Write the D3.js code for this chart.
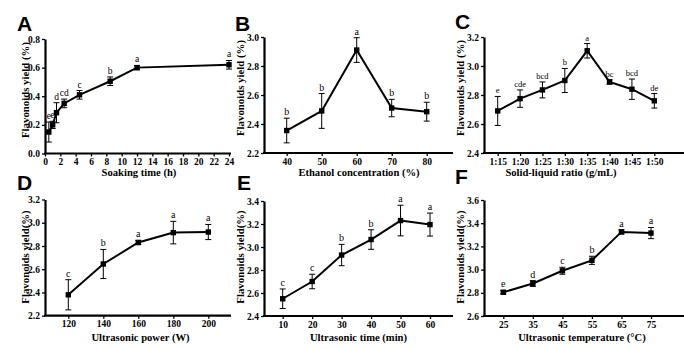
<!DOCTYPE html>
<html><head><meta charset="utf-8">
<script src="https://cdn.jsdelivr.net/npm/d3@7"></script>
<style>body{margin:0;background:#fff}svg{display:block}</style>
</head><body>
<svg id="c" width="684" height="349"></svg>
<script>
// Panel A
const aX = [0.5, 1, 1.5, 2.5, 4.5, 8.5, 12, 24];
const aY = [0.15, 0.20, 0.285, 0.35, 0.41, 0.505, 0.60, 0.62];
const aErr = [0.07, 0.025, 0.07, 0.03, 0.03, 0.03, 0.015, 0.03];
const aSig = ["e", "e", "d", "cd", "c", "b", "a", "a"];
const aXTicks = [0,2,4,6,8,10,12,14,16,18,20,22,24];
const aYTicks = [0.0, 0.2, 0.4, 0.6, 0.8];
// Panel B
const bX = [40, 50, 60, 70, 80];
const bY = [2.355, 2.49, 2.91, 2.51, 2.485];
const bErr = [0.085, 0.12, 0.085, 0.06, 0.065];
const bSig = ["b", "b", "a", "b", "b"];
const bYTicks = [2.2, 2.4, 2.6, 2.8, 3.0];
// Panel C
const cX = ["1:15","1:20","1:25","1:30","1:35","1:40","1:45","1:50"];
const cY = [2.69, 2.775, 2.835, 2.90, 3.105, 2.89, 2.84, 2.76];
const cErr = [0.10, 0.06, 0.055, 0.083, 0.05, 0.015, 0.07, 0.05];
const cSig = ["e", "cde", "bcd", "b", "a", "bc", "bcd", "de"];
const cYTicks = [2.4, 2.6, 2.8, 3.0, 3.2];
// Panel D
const dX = [120, 140, 160, 180, 200];
const dY = [2.38, 2.645, 2.83, 2.915, 2.92];
const dErr = [0.13, 0.125, 0.018, 0.097, 0.065];
const dSig = ["c", "b", "a", "a", "a"];
const dYTicks = [2.2, 2.4, 2.6, 2.8, 3.0, 3.2];
// Panel E
const eX = [10, 20, 30, 40, 50, 60];
const eY = [2.55, 2.70, 2.93, 3.065, 3.23, 3.195];
const eErr = [0.085, 0.063, 0.093, 0.085, 0.133, 0.1];
const eSig = ["c", "c", "b", "b", "a", "a"];
const eYTicks = [2.4, 2.6, 2.8, 3.0, 3.2, 3.4];
// Panel F
const fX = [25, 35, 45, 55, 65, 75];
const fY = [2.805, 2.88, 2.99, 3.08, 3.325, 3.315];
const fErr = [0.015, 0.025, 0.03, 0.035, 0.018, 0.048];
const fSig = ["e", "d", "c", "b", "a", "a"];
const fYTicks = [2.6, 2.8, 3.0, 3.2, 3.4, 3.6];

const svg = d3.select("#c");
const serif = "'Liberation Serif','Times New Roman',serif";

function panel(o) {
  const g = svg.append("g");
  const y = d3.scaleLinear().domain(o.yDom).range([o.y0, o.y1]);
  const x = o.x;
  const ya = d3.axisLeft(y).tickValues(o.yTicks).tickSize(3).tickSizeOuter(0)
    .tickFormat(d3.format(".1f"));
  const gy = g.append("g").attr("transform", `translate(${o.ax},0)`).call(ya);
  const xa = d3.axisBottom(x).tickSize(3).tickSizeOuter(0).tickPadding(2);
  if (o.xTicks) xa.tickValues(o.xTicks);
  xa.tickFormat(o.xFmt || (d => d));
  const gx = g.append("g").attr("transform", `translate(0,${o.y0})`).call(xa);
  gx.select(".domain").remove();
  g.append("line").attr("x1", o.ax - 1).attr("x2", o.axEnd)
    .attr("y1", o.y0).attr("y2", o.y0).attr("stroke", "#000").attr("stroke-width", 2.2);
  gy.select(".domain").attr("stroke-width", 2.2);
  [gx, gy].forEach(a => {
    a.selectAll(".tick line").attr("stroke-width", 1.3);
    a.selectAll("text").attr("font-family", serif).attr("font-weight", "bold")
      .attr("font-size", 9.5).attr("fill", "#000");
  });
  gy.selectAll("text").attr("dx", "0.1em");
  // titles
  g.append("text").attr("x", o.xtX).attr("y", o.xtY).attr("text-anchor", "middle")
    .attr("font-family", serif).attr("font-weight", "bold").attr("font-size", 10.6)
    .text(o.xTitle);
  g.append("text").attr("transform", `translate(${o.ytX},${o.ytY}) rotate(-90)`)
    .attr("text-anchor", "middle").attr("font-family", serif).attr("font-weight", "bold")
    .attr("font-size", 10.8).text(o.yTitle);
  g.append("text").attr("x", o.lx).attr("y", o.ly).attr("font-family", "'Liberation Sans',Arial,sans-serif")
    .attr("font-weight", "bold").attr("font-size", 21).text(o.letter);
  // data
  const pts = o.xs.map((v, i) => ({ x: x(v), y: y(o.ys[i]), hi: y(o.ys[i] + o.err[i]), lo: y(o.ys[i] - o.err[i]), s: o.sig[i] }));
  g.append("path").datum(pts).attr("fill", "none").attr("stroke", "#000").attr("stroke-width", 2)
    .attr("d", d3.line().x(d => d.x).y(d => d.y));
  const eb = g.selectAll(".eb").data(pts).enter().append("g");
  eb.append("line").attr("x1", d => d.x).attr("x2", d => d.x).attr("y1", d => d.hi).attr("y2", d => d.lo)
    .attr("stroke", "#000").attr("stroke-width", 1);
  eb.append("line").attr("x1", d => d.x - 3).attr("x2", d => d.x + 3).attr("y1", d => d.hi).attr("y2", d => d.hi)
    .attr("stroke", "#000").attr("stroke-width", 1);
  eb.append("line").attr("x1", d => d.x - 3).attr("x2", d => d.x + 3).attr("y1", d => d.lo).attr("y2", d => d.lo)
    .attr("stroke", "#000").attr("stroke-width", 1);
  eb.append("rect").attr("x", d => d.x - 2.7).attr("y", d => d.y - 2.7).attr("width", 5.4).attr("height", 5.4).attr("fill", "#000");
  eb.append("text").attr("x", d => d.x).attr("y", d => d.hi - 3).attr("text-anchor", "middle")
    .attr("font-family", serif).attr("font-size", o.sigSize || 10).attr("fill", "#000").text(d => d.s);
}

panel({ letter: "A", lx: 17, ly: 31, xs: aX, ys: aY, err: aErr, sig: aSig, yDom: [0, 0.8], yTicks: aYTicks,
  x: d3.scaleLinear().domain([0, 24]).range([45, 229]), xTicks: aXTicks, ax: 45, axEnd: 231, y0: 153.5, y1: 39,
  xTitle: "Soaking time (h)", xtX: 139, xtY: 176, yTitle: "Flavonoids yield (%)", ytX: 29, ytY: 90, sigSize: 9.5 });
panel({ letter: "B", lx: 235, ly: 31, xs: bX, ys: bY, err: bErr, sig: bSig, yDom: [2.2, 3.0], yTicks: bYTicks,
  x: d3.scaleLinear().domain([40, 80]).range([286.7, 426.7]), xTicks: bX, ax: 264, axEnd: 453, y0: 153, y1: 37,
  xTitle: "Ethanol concentration (%)", xtX: 359, xtY: 176, yTitle: "Flavonoids yield (%)", ytX: 244, ytY: 88 });
panel({ letter: "C", lx: 455, ly: 29, xs: cX, ys: cY, err: cErr, sig: cSig, yDom: [2.4, 3.2], yTicks: cYTicks,
  x: d3.scalePoint().domain(cX).range([497.7, 654.3]), ax: 484, axEnd: 684, y0: 153, y1: 37,
  xTitle: "Solid-liquid ratio (g/mL)", xtX: 561, xtY: 176, yTitle: "Flavonoids yield (%)", ytX: 464, ytY: 88, sigSize: 8.5 });
panel({ letter: "D", lx: 17, ly: 190, xs: dX, ys: dY, err: dErr, sig: dSig, yDom: [2.2, 3.2], yTicks: dYTicks,
  x: d3.scaleLinear().domain([120, 200]).range([68.3, 208.3]), xTicks: dX, ax: 45, axEnd: 231, y0: 315.7, y1: 199.5,
  xTitle: "Ultrasonic power (W)", xtX: 140.5, xtY: 341, yTitle: "Flavonoids yield(%)", ytX: 29, ytY: 257 });
panel({ letter: "E", lx: 237, ly: 190, xs: eX, ys: eY, err: eErr, sig: eSig, yDom: [2.4, 3.4], yTicks: eYTicks,
  x: d3.scaleLinear().domain([10, 60]).range([282.7, 430]), xTicks: eX, ax: 264, axEnd: 453, y0: 316, y1: 201,
  xTitle: "Ultrasonic time (min)", xtX: 358.5, xtY: 341, yTitle: "Flavonoids yield(%)", ytX: 244, ytY: 257 });
panel({ letter: "F", lx: 455, ly: 184, xs: fX, ys: fY, err: fErr, sig: fSig, yDom: [2.6, 3.6], yTicks: fYTicks,
  x: d3.scaleLinear().domain([25, 75]).range([503.3, 651]), xTicks: fX, ax: 484, axEnd: 684, y0: 316, y1: 200,
  xTitle: "Ultrasonic temperature (°C)", xtX: 582, xtY: 341, yTitle: "Flavonoids yield(%)", ytX: 464, ytY: 257 });
</script>
</body></html>
